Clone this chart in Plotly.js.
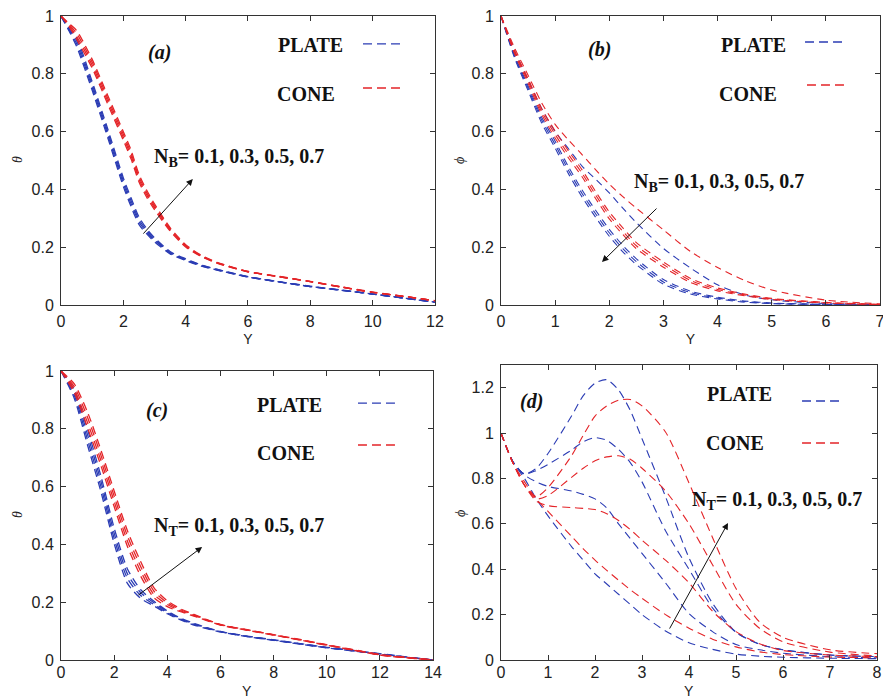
<!DOCTYPE html>
<html>
<head>
<meta charset="utf-8">
<script src="https://cdn.plot.ly/plotly-3.0.1.min.js"></script>
<style>html,body{margin:0;padding:0;background:#fff}#chart{width:883px;height:698px}</style>
</head>
<body>
<div id="chart"></div>
<script>
// ---------- DATA ----------
const nValues = ['0.1', '0.3', '0.5', '0.7'];

// Panel (a): theta vs Y, N_B varies
const yA = [0, 0.25, 0.5, 1, 1.5, 2, 2.25, 2.5, 2.75, 3, 3.5, 4, 4.5, 5, 6, 7, 8, 9, 10, 11, 12];
const plateA1 = [1, 0.95, 0.895, 0.743, 0.579, 0.41, 0.34, 0.279, 0.246, 0.219, 0.177, 0.154, 0.135, 0.121, 0.097, 0.08, 0.064, 0.051, 0.038, 0.024, 0.01];
const plateA2 = [1, 0.953, 0.905, 0.753, 0.589, 0.42, 0.35, 0.288, 0.252, 0.224, 0.18, 0.156, 0.136, 0.122, 0.097, 0.08, 0.064, 0.051, 0.038, 0.024, 0.01];
const plateA3 = [1, 0.957, 0.915, 0.763, 0.599, 0.43, 0.36, 0.296, 0.258, 0.228, 0.182, 0.158, 0.138, 0.123, 0.098, 0.08, 0.064, 0.051, 0.038, 0.024, 0.01];
const plateA4 = [1, 0.96, 0.925, 0.773, 0.609, 0.44, 0.37, 0.305, 0.264, 0.233, 0.185, 0.16, 0.139, 0.124, 0.098, 0.081, 0.065, 0.052, 0.038, 0.024, 0.01];
const coneA1 = [1, 0.965, 0.92, 0.82, 0.695, 0.57, 0.505, 0.427, 0.373, 0.33, 0.256, 0.201, 0.168, 0.145, 0.115, 0.098, 0.081, 0.062, 0.044, 0.03, 0.015];
const coneA2 = [1, 0.968, 0.93, 0.83, 0.705, 0.58, 0.515, 0.436, 0.381, 0.337, 0.26, 0.204, 0.169, 0.146, 0.115, 0.098, 0.081, 0.062, 0.044, 0.03, 0.015];
const coneA3 = [1, 0.972, 0.94, 0.84, 0.715, 0.59, 0.525, 0.444, 0.389, 0.343, 0.264, 0.206, 0.171, 0.147, 0.116, 0.098, 0.081, 0.062, 0.044, 0.03, 0.015];
const coneA4 = [1, 0.975, 0.95, 0.85, 0.725, 0.6, 0.535, 0.453, 0.397, 0.35, 0.268, 0.209, 0.172, 0.148, 0.116, 0.099, 0.082, 0.063, 0.045, 0.03, 0.015];

// Panel (b): phi vs Y, N_B varies
const yB = [0, 0.25, 0.5, 0.75, 1, 1.25, 1.5, 1.75, 2, 2.25, 2.5, 3, 3.5, 4, 4.5, 5, 6, 7];
const plateB1 = [1, 0.88, 0.78, 0.68, 0.6, 0.54, 0.48, 0.435, 0.388, 0.335, 0.285, 0.196, 0.128, 0.07, 0.035, 0.018, 0.005, 0.001];
const plateB2 = [1, 0.865, 0.758, 0.65, 0.567, 0.477, 0.397, 0.327, 0.262, 0.206, 0.16, 0.088, 0.048, 0.027, 0.014, 0.007, 0.002, 0];
const plateB3 = [1, 0.86, 0.75, 0.64, 0.555, 0.465, 0.385, 0.315, 0.25, 0.195, 0.15, 0.08, 0.043, 0.024, 0.012, 0.006, 0.002, 0];
const plateB4 = [1, 0.855, 0.742, 0.63, 0.543, 0.453, 0.373, 0.303, 0.238, 0.184, 0.14, 0.072, 0.038, 0.021, 0.01, 0.005, 0.001, 0];
const coneB1 = [1, 0.89, 0.795, 0.7, 0.625, 0.57, 0.52, 0.468, 0.418, 0.375, 0.335, 0.26, 0.185, 0.13, 0.085, 0.052, 0.017, 0.004];
const coneB2 = [1, 0.88, 0.783, 0.68, 0.602, 0.532, 0.467, 0.392, 0.322, 0.267, 0.216, 0.149, 0.092, 0.059, 0.038, 0.023, 0.009, 0.002];
const coneB3 = [1, 0.875, 0.775, 0.67, 0.59, 0.52, 0.455, 0.38, 0.31, 0.255, 0.205, 0.14, 0.085, 0.054, 0.035, 0.021, 0.008, 0.002];
const coneB4 = [1, 0.87, 0.767, 0.66, 0.578, 0.508, 0.443, 0.368, 0.298, 0.244, 0.195, 0.131, 0.078, 0.049, 0.032, 0.019, 0.007, 0.001];

// Panel (c): theta vs Y, N_T varies
const yC = [0, 0.5, 1, 1.5, 2, 2.5, 3, 3.5, 4, 4.5, 5, 6, 7, 8, 9, 10, 11, 12, 13, 14];
const plateC1 = [1, 0.905, 0.743, 0.583, 0.403, 0.265, 0.213, 0.187, 0.16, 0.139, 0.121, 0.097, 0.081, 0.068, 0.055, 0.042, 0.031, 0.02, 0.01, 0];
const plateC2 = [1, 0.915, 0.761, 0.601, 0.421, 0.282, 0.223, 0.192, 0.163, 0.141, 0.123, 0.098, 0.082, 0.069, 0.056, 0.043, 0.032, 0.021, 0.01, 0];
const plateC3 = [1, 0.925, 0.779, 0.619, 0.439, 0.298, 0.233, 0.198, 0.167, 0.143, 0.125, 0.098, 0.082, 0.069, 0.056, 0.043, 0.032, 0.021, 0.01, 0];
const plateC4 = [1, 0.935, 0.797, 0.637, 0.457, 0.315, 0.243, 0.203, 0.17, 0.145, 0.127, 0.099, 0.083, 0.07, 0.057, 0.044, 0.033, 0.022, 0.011, 0];
const coneC1 = [1, 0.925, 0.803, 0.673, 0.531, 0.393, 0.29, 0.215, 0.185, 0.167, 0.152, 0.121, 0.103, 0.086, 0.069, 0.051, 0.034, 0.017, 0.008, 0];
const coneC2 = [1, 0.935, 0.821, 0.691, 0.549, 0.411, 0.307, 0.226, 0.192, 0.17, 0.154, 0.122, 0.104, 0.087, 0.07, 0.052, 0.035, 0.018, 0.008, 0];
const coneC3 = [1, 0.945, 0.839, 0.709, 0.567, 0.429, 0.323, 0.238, 0.198, 0.174, 0.156, 0.122, 0.104, 0.087, 0.07, 0.052, 0.035, 0.018, 0.008, 0];
const coneC4 = [1, 0.955, 0.857, 0.727, 0.585, 0.447, 0.34, 0.25, 0.205, 0.177, 0.158, 0.123, 0.105, 0.088, 0.071, 0.053, 0.036, 0.019, 0.009, 0];

// Panel (d): phi vs Y, N_T varies
const yD = [0, 0.25, 0.5, 0.75, 1, 1.5, 1.75, 2, 2.25, 2.5, 2.75, 3, 3.5, 4, 4.5, 5, 5.5, 6, 7, 8];
const plateD1 = [1, 0.875, 0.8, 0.71, 0.635, 0.5, 0.44, 0.38, 0.335, 0.29, 0.245, 0.2, 0.128, 0.076, 0.047, 0.026, 0.017, 0.012, 0.008, 0.006];
const plateD2 = [1, 0.875, 0.815, 0.785, 0.765, 0.745, 0.73, 0.71, 0.67, 0.6, 0.535, 0.47, 0.34, 0.205, 0.125, 0.068, 0.045, 0.03, 0.015, 0.01];
const plateD3 = [1, 0.875, 0.82, 0.835, 0.862, 0.925, 0.962, 0.98, 0.968, 0.928, 0.87, 0.785, 0.57, 0.4, 0.23, 0.122, 0.07, 0.045, 0.022, 0.015];
const plateD4 = [1, 0.875, 0.82, 0.845, 0.91, 1.075, 1.165, 1.22, 1.235, 1.19, 1.1, 0.975, 0.72, 0.45, 0.25, 0.123, 0.07, 0.045, 0.022, 0.015];
const coneD1 = [1, 0.87, 0.785, 0.71, 0.655, 0.545, 0.49, 0.44, 0.395, 0.352, 0.31, 0.272, 0.2, 0.14, 0.092, 0.058, 0.036, 0.024, 0.013, 0.01];
const coneD2 = [1, 0.87, 0.77, 0.7, 0.68, 0.672, 0.668, 0.663, 0.645, 0.615, 0.575, 0.528, 0.44, 0.34, 0.215, 0.125, 0.072, 0.042, 0.022, 0.015];
const coneD3 = [1, 0.87, 0.77, 0.71, 0.725, 0.805, 0.845, 0.878, 0.895, 0.9, 0.885, 0.845, 0.745, 0.6, 0.42, 0.245, 0.14, 0.08, 0.035, 0.018];
const coneD4 = [1, 0.87, 0.77, 0.72, 0.76, 0.9, 0.99, 1.075, 1.12, 1.145, 1.148, 1.12, 1.005, 0.78, 0.54, 0.315, 0.168, 0.1, 0.045, 0.028];

const xTicksA = [0, 2, 4, 6, 8, 10, 12];
const xTicksB = [0, 1, 2, 3, 4, 5, 6, 7];
const xTicksC = [0, 2, 4, 6, 8, 10, 12, 14];
const xTicksD = [0, 1, 2, 3, 4, 5, 6, 7, 8];
const yTicks01 = [0, 0.2, 0.4, 0.6, 0.8, 1];
const yTicksD = [0, 0.2, 0.4, 0.6, 0.8, 1, 1.2];

// ---------- STYLE ----------
const BLUE = '#2b3cb4';
const RED = '#e42428';
const traces = [];
function addSet(x, arrs, color, xa, ya, width, dash) {
  arrs.forEach((arr, i) => {
    traces.push({
      x: x, y: arr, xaxis: xa, yaxis: ya, type: 'scatter', mode: 'lines',
      name: 'N=' + nValues[i], showlegend: false, hoverinfo: 'skip',
      line: {color: color, width: width, dash: dash, shape: 'spline', smoothing: 0.7}
    });
  });
}
addSet(yA, [plateA1, plateA2, plateA3, plateA4], BLUE, 'x', 'y', 1.3, '8px,5px');
addSet(yA, [coneA1, coneA2, coneA3, coneA4], RED, 'x', 'y', 1.3, '8px,5px');
addSet(yB, [plateB1, plateB2, plateB3, plateB4], BLUE, 'x2', 'y2', 1.1, '7px,5px');
addSet(yB, [coneB1, coneB2, coneB3, coneB4], RED, 'x2', 'y2', 1.1, '7px,5px');
addSet(yC, [plateC1, plateC2, plateC3, plateC4], BLUE, 'x3', 'y3', 1.3, '8px,5px');
addSet(yC, [coneC1, coneC2, coneC3, coneC4], RED, 'x3', 'y3', 1.3, '8px,5px');
addSet(yD, [plateD1, plateD2, plateD3, plateD4], BLUE, 'x4', 'y4', 1.1, '8px,5px');
addSet(yD, [coneD1, coneD2, coneD3, coneD4], RED, 'x4', 'y4', 1.1, '8px,5px');

const tickFont = {family: 'Liberation Sans, Arial, sans-serif', size: 16, color: '#222'};
const axTitleFont = {family: 'Liberation Sans, Arial, sans-serif', size: 14, color: '#222'};
function xax(domain, anchor, range, tv, withTitle, lblOff) {
  const ax = {domain: domain, anchor: anchor, range: range, tickmode: 'array', tickvals: tv,
    ticks: 'inside', ticklen: 5, tickwidth: 1, tickcolor: '#333', mirror: 'ticks',
    showline: true, linecolor: '#333', linewidth: 1, showgrid: false, zeroline: false,
    tickfont: tickFont, automargin: false, ticklabelstandoff: lblOff, ticklabeloverflow: 'allow'};
  if (withTitle) ax.title = {text: 'Y', font: axTitleFont, standoff: 4};
  return ax;
}
function yax(domain, anchor, range, tv) {
  return {domain: domain, anchor: anchor, range: range, tickmode: 'array', tickvals: tv,
    ticks: 'inside', ticklen: 5, tickwidth: 1, tickcolor: '#333', mirror: 'ticks',
    showline: true, linecolor: '#333', linewidth: 1, showgrid: false, zeroline: false,
    tickfont: tickFont, automargin: false, ticklabelstandoff: 3, ticklabeloverflow: 'allow'};
}

const annFont = {family: 'Liberation Serif, Times New Roman, serif', size: 20, color: '#111'};
function txt(x, y, text, anchor) {
  return {xref: 'paper', yref: 'paper', x: x, y: y, text: text, showarrow: false,
    xanchor: anchor || 'center', yanchor: 'middle', font: annFont};
}
function ytitle(x, y, label) {
  return {xref: 'paper', yref: 'paper', x: x, y: y, text: '<i>' + label + '</i>', showarrow: false,
    textangle: -90, xanchor: 'center', yanchor: 'middle',
    font: {family: 'Liberation Serif, serif', size: 14, color: '#222'}};
}
function xtitle(x, y) {
  return {xref: 'paper', yref: 'paper', x: x, y: y, text: 'Y', showarrow: false,
    xanchor: 'center', yanchor: 'middle', font: axTitleFont, borderpad: 0};
}
function arrow(xr, yr, hx, hy, tx, ty) {
  return {xref: xr, yref: yr, axref: xr, ayref: yr, x: hx, y: hy, ax: tx, ay: ty, text: '',
    showarrow: true, arrowhead: 2, arrowsize: 1.3, arrowwidth: 1, arrowcolor: '#111'};
}
function legLine(x0, x1, y, color) {
  return {type: 'line', xref: 'paper', yref: 'paper', x0: x0, x1: x1, y0: y, y1: y,
    line: {color: color, width: 1.3, dash: '9px,5px'}};
}

const layout = {
  width: 883, height: 698,
  margin: {l: 0, r: 0, t: 0, b: 0},
  paper_bgcolor: '#fff', plot_bgcolor: '#fff',
  showlegend: false,
  xaxis: xax([0.0691, 0.4926], 'y', [0, 12], xTicksA, true, 2),
  yaxis: yax([0.563, 0.977], 'x', [0, 1], yTicks01),
  xaxis2: xax([0.5674, 0.9966], 'y2', [0, 7], xTicksB, true, 2),
  yaxis2: yax([0.563, 0.977], 'x2', [0, 1], yTicks01),
  xaxis3: xax([0.0691, 0.4904], 'y3', [0, 14], xTicksC, false, -2),
  yaxis3: yax([0.0544, 0.4685], 'x3', [0, 1], yTicks01),
  xaxis4: xax([0.5674, 0.9932], 'y4', [0, 8], xTicksD, false, -2),
  yaxis4: yax([0.0544, 0.4771], 'x4', [0, 1.3], yTicksD),
  annotations: [
    ytitle(0.0204, 0.7708, 'θ'),
    ytitle(0.5209, 0.7708, 'ϕ'),
    ytitle(0.0204, 0.2622, 'θ'),
    ytitle(0.5209, 0.265, 'ϕ'),
    xtitle(0.2797, 0.0095),
    xtitle(0.7803, 0.0095),

    txt(0.1812, 0.9255, '<b><i>(a)</i></b>'),
    txt(0.3522, 0.9355, '<b>PLATE</b>'),
    txt(0.3465, 0.8653, '<b>CONE</b>'),
    txt(0.172, 0.775, '<b>N<sub>B</sub>= 0.1, 0.3, 0.5, 0.7</b>', 'left'),
    arrow('x', 'y', 4.23, 0.436, 2.6, 0.242),

    txt(0.6795, 0.9284, '<b><i>(b)</i></b>'),
    txt(0.8528, 0.9355, '<b>PLATE</b>'),
    txt(0.8471, 0.8653, '<b>CONE</b>'),
    txt(0.7157, 0.738, '<b>N<sub>B</sub>= 0.1, 0.3, 0.5, 0.7</b>', 'left'),
    arrow('x2', 'y2', 1.865, 0.149, 2.9, 0.339),

    txt(0.1778, 0.4112, '<b><i>(c)</i></b>'),
    txt(0.3284, 0.4198, '<b>PLATE</b>'),
    txt(0.3239, 0.351, '<b>CONE</b>'),
    txt(0.172, 0.245, '<b>N<sub>T</sub>= 0.1, 0.3, 0.5, 0.7</b>', 'left'),
    arrow('x3', 'y3', 5.31, 0.391, 2.86, 0.221),

    txt(0.6014, 0.4241, '<b><i>(d)</i></b>'),
    txt(0.838, 0.4355, '<b>PLATE</b>'),
    txt(0.8324, 0.3653, '<b>CONE</b>'),
    txt(0.7814, 0.283, '<b>N<sub>T</sub>= 0.1, 0.3, 0.5, 0.7</b>', 'left'),
    arrow('x4', 'y4', 4.83, 0.604, 3.57, 0.132)
  ],
  shapes: [
    legLine(0.4111, 0.4575, 0.937, BLUE),
    legLine(0.4111, 0.4575, 0.8739, RED),
    legLine(0.9117, 0.9592, 0.9398, BLUE),
    legLine(0.9139, 0.9604, 0.8782, RED),
    legLine(0.4054, 0.4507, 0.4226, BLUE),
    legLine(0.4054, 0.4507, 0.3625, RED),
    legLine(0.9083, 0.9536, 0.4255, BLUE),
    legLine(0.9083, 0.9536, 0.3653, RED)
  ]
};

Plotly.newPlot('chart', traces, layout, {staticPlot: true, displayModeBar: false});
</script>
</body>
</html>
